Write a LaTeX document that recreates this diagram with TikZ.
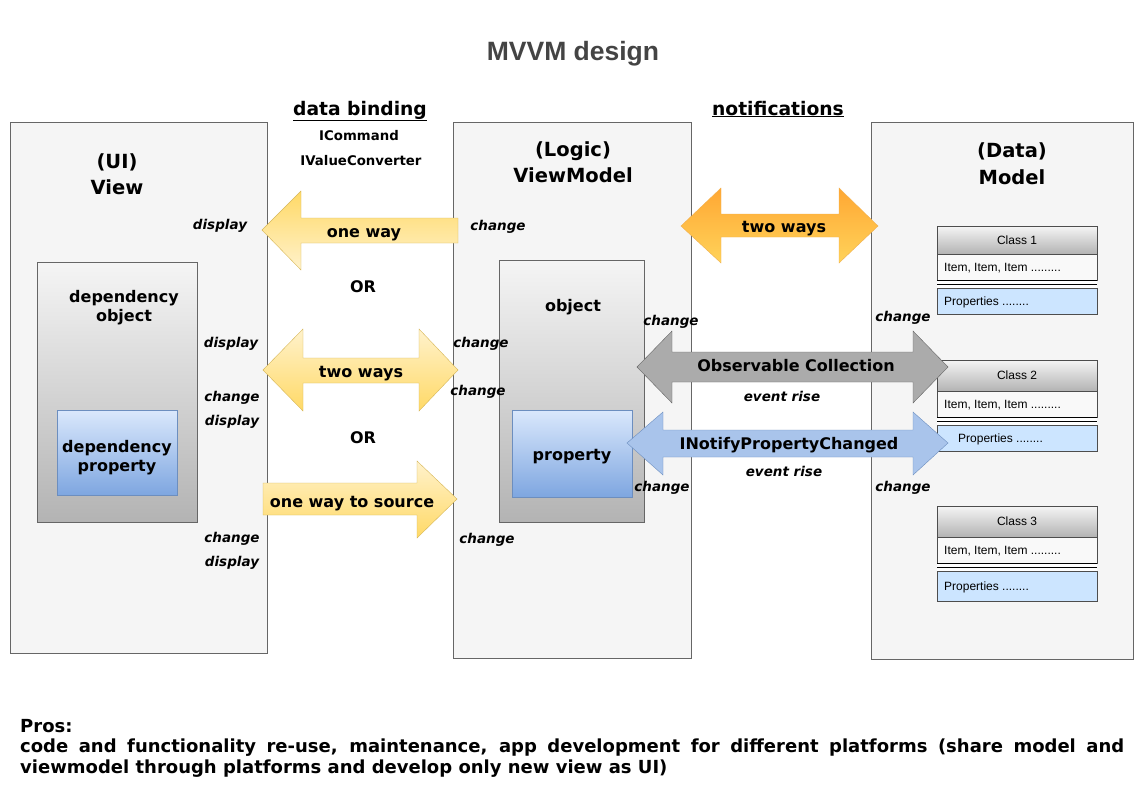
\documentclass[tikz,border=0pt]{standalone}
\usepackage{fontspec}
\setmainfont{DejaVu Sans}
\newfontfamily\arialf{Liberation Sans}
\definecolor{pfill}{HTML}{F5F5F5}
\definecolor{pline}{HTML}{666666}
\definecolor{gtop}{HTML}{F5F5F5}
\definecolor{gbot}{HTML}{B3B3B3}
\definecolor{btop}{HTML}{DAE8FC}
\definecolor{bbot}{HTML}{7EA6E0}
\definecolor{bline}{HTML}{6C8EBF}
\definecolor{ylight}{HTML}{FFF2CC}
\definecolor{ydark}{HTML}{FFD966}
\definecolor{yline}{HTML}{D6B656}
\definecolor{otop}{HTML}{FFA733}
\definecolor{obot}{HTML}{FFD35A}
\definecolor{oline}{HTML}{F0B050}
\definecolor{garrow}{HTML}{ABABAB}
\definecolor{barrow}{HTML}{A9C4EB}
\definecolor{propfill}{HTML}{CCE5FF}
\definecolor{clsline}{HTML}{4D4D4D}
\definecolor{itemfill}{HTML}{F9F9F9}
\definecolor{titlec}{HTML}{444444}
\begin{document}
\begin{tikzpicture}[x=1pt,y=-1pt,
  panel/.style={draw=pline,fill=pfill},
  graybox/.style={draw=pline,top color=gtop,bottom color=gbot},
  bluebox/.style={draw=bline,top color=btop,bottom color=bbot},
  txt/.style={inner sep=0pt,text depth=0pt},
  big/.style={txt,text height=14.2pt,font=\bfseries\fontsize{19.5}{23}\selectfont},
  mid/.style={txt,text height=11.7pt,font=\bfseries\fontsize{16}{19}\selectfont},
  small/.style={txt,text height=9.7pt,font=\bfseries\fontsize{13.3}{16}\selectfont},
  itl/.style={txt,text height=9.85pt,font=\bfseries\itshape\fontsize{13.5}{16}\selectfont},
  head/.style={inner sep=0pt,font=\bfseries\fontsize{18.7}{22}\selectfont},
  clstxt/.style={txt,text height=8.6pt,font=\arialf\fontsize{12}{14}\selectfont},
  clshead/.style={draw=clsline,top color=gtop,bottom color=gbot},
  clsitem/.style={draw=clsline,fill=itemfill},
  clsprop/.style={draw=clsline,fill=propfill}
]
\useasboundingbox (0,0) rectangle (1144,801);
\fill[white] (0,0) rectangle (1144,801);

% title
\node[txt,text height=19pt,font=\arialf\bfseries\fontsize{26.5}{30}\selectfont,text=titlec] (title) at (573,50.5) {MVVM design};
\node[head,anchor=base] (db) at (360,115) {\underline{data binding}};
\node[head,anchor=base] (notif) at (778,115) {\underline{notifications}};
\node[small] (icmd) at (359,136) {ICommand};
\node[small] (ivc) at (361,161) {IValueConverter};

% panels
\draw[panel] (10,122) rectangle (267,653);
\draw[panel] (453,122) rectangle (691,658);
\draw[panel] (871,122) rectangle (1133,659);

\node[big] (ui) at (117,161) {(UI)};
\node[big] (view) at (117,187) {View};
\node[big] (logic) at (573,149) {(Logic)};
\node[big] (vm) at (573,175) {ViewModel};
\node[big] (data) at (1012,150) {(Data)};
\node[big] (model) at (1012,177) {Model};

% inner boxes
\draw[graybox] (37,262) rectangle (197,522);
\node[mid] (dob1) at (124,297) {dependency};
\node[mid] (dob2) at (124,316) {object};
\draw[bluebox] (57,410) rectangle (177,495);
\node[mid] (dp1) at (117,447) {dependency};
\node[mid] (dp2) at (117,466) {property};

\draw[graybox] (499,260) rectangle (644,522);
\node[mid] (obj) at (573,306) {object};
\draw[bluebox] (512,410) rectangle (632,497);
\node[mid] (prop) at (572,455) {property};

% classes
\foreach \t/\hb/\ib/\pt/\pb/\n/\px in {226/254/280/288/314/1/944, 360/391/417/425/451/2/958, 506/537/563/571/601/3/944}{
  \draw[clshead] (937,\t) rectangle (1097,\hb);
  \draw[clsitem] (937,\hb) rectangle (1097,\ib);
  \fill[white] (937,\ib) rectangle (1097,\pt);
  \draw[black,line width=1.2pt] (937,\ib+0.6) -- (1097,\ib+0.6);
  \draw[black] (937,\ib+4.5) -- (1097,\ib+4.5);
  \draw[clsprop] (937,\pt) rectangle (1097,\pb);
  \node[clstxt] (cn\n) at (1017,{(\t+\hb)/2}) {Class \n};
  \node[clstxt,anchor=west] (ci\n) at (944,{(\hb+\ib)/2}) {Item, Item, Item .........};
  \node[clstxt,anchor=west] (cp\n) at (\px,{(\pt+\pb)/2}) {Properties ........};
}

% arrows
\path[draw=yline,top color=ydark,bottom color=ylight]
  (262,230) -- (301,191) -- (301,218) -- (458,218) -- (458,243) -- (301,243) -- (301,270) -- cycle;
\node[mid] (ow) at (364,232) {one way};

\path[draw=yline,top color=ylight,bottom color=ydark]
  (263,370) -- (303,329) -- (303,358) -- (419,358) -- (419,329) -- (458,370) -- (419,411) -- (419,383) -- (303,383) -- (303,411) -- cycle;
\node[mid] (tw) at (361,372) {two ways};

\path[draw=yline,top color=ylight,bottom color=ydark]
  (263,483) -- (417,483) -- (417,461) -- (457,499) -- (417,538) -- (417,515) -- (263,515) -- cycle;
\node[mid] (ows) at (352,502) {one way to source};

\path[draw=oline,top color=otop,bottom color=obot]
  (681,226) -- (721,188) -- (721,214) -- (839,214) -- (839,188) -- (878,226) -- (839,263) -- (839,237) -- (721,237) -- (721,263) -- cycle;
\node[mid] (tw2) at (784,227) {two ways};

\path[draw=pline,fill=garrow]
  (637,367) -- (672,331) -- (672,352) -- (913,352) -- (913,331) -- (948,367) -- (913,403) -- (913,382) -- (672,382) -- (672,403) -- cycle;
\node[mid] (oc) at (796,366) {Observable Collection};

\path[draw=bline,fill=barrow]
  (627,443) -- (663,412) -- (663,430) -- (913,430) -- (913,412) -- (948,443) -- (913,475) -- (913,457) -- (663,457) -- (663,475) -- cycle;
\node[mid] (inpc) at (789,444) {INotifyPropertyChanged};

% labels
\node[itl] (l1) at (220,225) {display};
\node[itl] (l2) at (498,226) {change};
\node[mid] (or1) at (363,287) {OR};
\node[mid] (or2) at (363,438) {OR};
\node[itl] (l3) at (231,343) {display};
\node[itl] (l4) at (481,343) {change};
\node[itl] (l5) at (232,397) {change};
\node[itl] (l6) at (232,421) {display};
\node[itl] (l7) at (478,391) {change};
\node[itl] (l8) at (232,538) {change};
\node[itl] (l9) at (232,562) {display};
\node[itl] (l10) at (487,539) {change};
\node[itl] (l11) at (671,321) {change};
\node[itl] (l12) at (903,317) {change};
\node[itl] (l13) at (782,397) {event rise};
\node[itl] (l14) at (784,472) {event rise};
\node[itl] (l15) at (662,487) {change};
\node[itl] (l16) at (903,487) {change};

% pros
\node[anchor=north west,inner sep=0pt,text width=1104pt,align=justify,
  font=\bfseries\fontsize{18}{20.4}\selectfont] (pros) at (20,719)
  {\hyphenpenalty=10000 Pros:\\ code and functionality re-use, maintenance, app development for different platforms (share model and\linebreak viewmodel through platforms and develop only new view as UI)};
\end{tikzpicture}
\end{document}
